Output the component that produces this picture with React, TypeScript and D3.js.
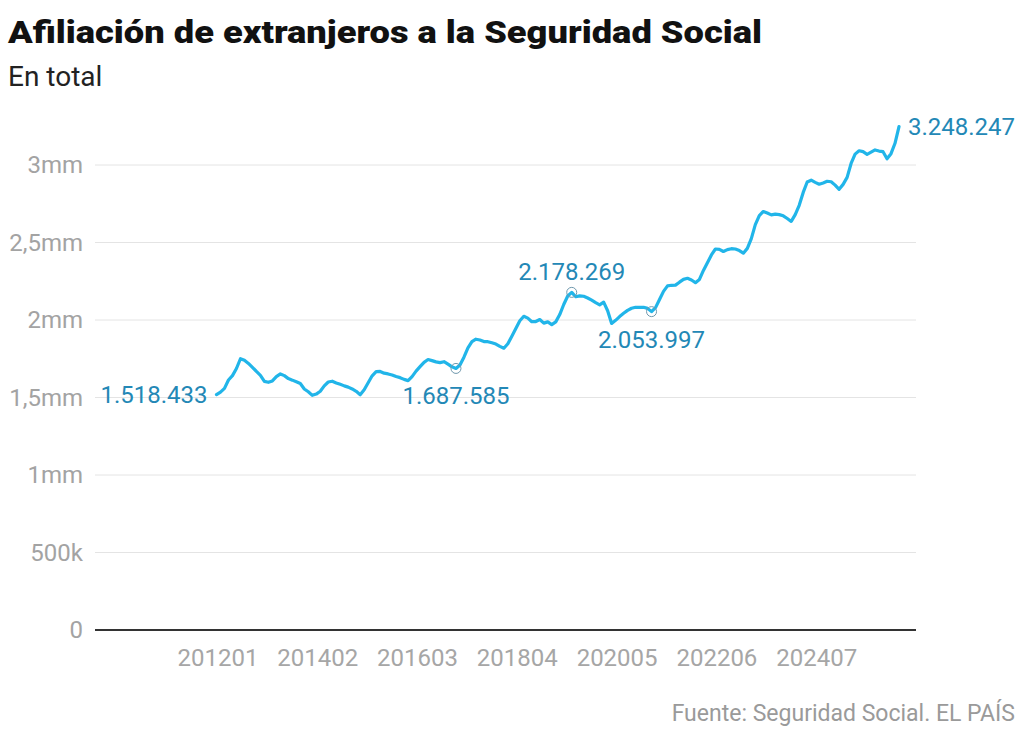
import * as React from 'react'
import * as d3 from 'd3'

// Afiliados extranjeros, serie mensual desde 201201
const startYear = 2012
const affiliates = [
  1518433, 1535000, 1559000, 1613000, 1641000, 1687000, 1750000, 1740000, 1720000, 1695000,
  1668000, 1643000, 1604000, 1598000, 1607000, 1635000, 1652000, 1641000, 1622000, 1612000,
  1601000, 1590000, 1555000, 1537000, 1514000, 1522000, 1540000, 1575000, 1600000, 1605000,
  1594000, 1585000, 1575000, 1567000, 1555000, 1540000, 1518000, 1550000, 1595000, 1640000,
  1667000, 1668000, 1657000, 1652000, 1645000, 1635000, 1628000, 1617000, 1609000, 1635000,
  1670000, 1699000, 1727000, 1745000, 1738000, 1730000, 1725000, 1731000, 1715000, 1698000,
  1687585, 1710000, 1760000, 1820000, 1860000, 1876000, 1871000, 1861000, 1860000, 1853000,
  1845000, 1830000, 1818000, 1847000, 1895000, 1945000, 1995000, 2024000, 2012000, 1989000,
  1990000, 2003000, 1980000, 1988000, 1970000, 1988000, 2035000, 2100000, 2155000, 2178269,
  2150000, 2156000, 2153000, 2142000, 2128000, 2112000, 2098000, 2115000, 2060000, 1978000,
  1998000, 2022000, 2043000, 2062000, 2076000, 2082000, 2082000, 2082000, 2075000, 2053997,
  2080000, 2132000, 2185000, 2220000, 2224000, 2225000, 2244000, 2262000, 2269000, 2258000,
  2241000, 2262000, 2320000, 2370000, 2420000, 2458000, 2456000, 2442000, 2454000, 2460000,
  2458000, 2448000, 2431000, 2462000, 2525000, 2615000, 2674000, 2700000, 2690000, 2678000,
  2683000, 2680000, 2672000, 2655000, 2636000, 2680000, 2740000, 2823000, 2890000, 2902000,
  2888000, 2876000, 2884000, 2895000, 2892000, 2870000, 2843000, 2875000, 2920000, 3010000,
  3070000, 3092000, 3086000, 3069000, 3083000, 3097000, 3090000, 3086000, 3040000, 3073000,
  3140000, 3248247,
]

const months = affiliates.map((_, i) => {
  const y = startYear + Math.floor(i / 12)
  const m = (i % 12) + 1
  return `${y}${m < 10 ? '0' : ''}${m}`
})

const xTickLabels = ['201201', '201402', '201603', '201804', '202005', '202206', '202407']
const yTickValues = [0, 500000, 1000000, 1500000, 2000000, 2500000, 3000000]
const yTickLabels = ['0', '500k', '1mm', '1,5mm', '2mm', '2,5mm', '3mm']

// puntos anotados: mes, posición del texto
const highlights = [
  { month: '201701', place: 'below' },
  { month: '201906', place: 'above' },
  { month: '202102', place: 'below' },
]

const fmt = (v: number) => d3.format(',')(v).replace(/,/g, '.')

const FONT = 'Roboto, "Noto Sans", sans-serif'
const lineColor = '#21b5e9'
const labelColor = '#2388b6'

export default function App() {
  const width = 1024
  const height = 737

  const x = d3.scalePoint<string>().domain(months).range([216.5, 899])
  const y = d3.scaleLinear().domain([0, 3000000]).range([630, 165])

  const line = d3.line<number>()
    .x((_, i) => x(months[i])!)
    .y(d => y(d))

  const first = affiliates[0]
  const last = affiliates[affiliates.length - 1]
  const lastMonth = months[months.length - 1]

  return (
    <div style={{ position: 'absolute', left: 0, top: 0 }}>
      <svg width={width} height={height} style={{ display: 'block', background: '#fff' }}>
        <text
          x={8}
          y={43}
          fontFamily={FONT}
          fontWeight={900}
          fontSize={31}
          fill="#111"
          textLength={754}
          lengthAdjust="spacingAndGlyphs"
        >
          Afiliación de extranjeros a la Seguridad Social
        </text>
        <text x={8} y={86} fontFamily={FONT} fontSize={28} fill="#222">
          En total
        </text>

        {/* Grid and y axis */}
        {yTickValues.map((v, i) => (
          <g key={v}>
            {v !== 0 && (
              <line x1={95} x2={916} y1={y(v)} y2={y(v)} stroke="#e4e4e4" strokeWidth={1} />
            )}
            <text
              x={83}
              y={y(v) + 8}
              textAnchor="end"
              fontFamily={FONT}
              fontSize={24}
              fill="#a3a3a3"
            >
              {yTickLabels[i]}
            </text>
          </g>
        ))}
        <line x1={95} x2={916} y1={y(0)} y2={y(0)} stroke="#333" strokeWidth={2} />

        {/* x axis labels */}
        {xTickLabels.map(m => (
          <text
            key={m}
            x={x(m)! + 1.5}
            y={666}
            textAnchor="middle"
            fontFamily={FONT}
            fontSize={24}
            fill="#a6a6a6"
          >
            {m}
          </text>
        ))}

        {/* Series */}
        <path
          d={line(affiliates) || ''}
          fill="none"
          stroke={lineColor}
          strokeWidth={3.2}
          strokeLinejoin="round"
          strokeLinecap="round"
        />

        {highlights.map(h => {
          const idx = months.indexOf(h.month)
          const v = affiliates[idx]
          const cx = x(h.month)!
          const cy = y(v)
          return (
            <g key={h.month}>
              <circle cx={cx} cy={cy} r={5} fill="none" stroke="#6f98ad" strokeWidth={1} />
              <text
                x={cx}
                y={h.place === 'above' ? cy - 12 : cy + 36}
                textAnchor="middle"
                fontFamily={FONT}
                fontSize={24}
                fill={labelColor}
              >
                {fmt(v)}
              </text>
            </g>
          )
        })}

        <text
          x={x(months[0])! - 9}
          y={y(first) + 8}
          textAnchor="end"
          fontFamily={FONT}
          fontSize={24}
          fill={labelColor}
        >
          {fmt(first)}
        </text>
        <text
          x={x(lastMonth)! + 9}
          y={y(last) + 8}
          fontFamily={FONT}
          fontSize={24}
          fill={labelColor}
        >
          {fmt(last)}
        </text>

        <text
          x={1015}
          y={721}
          textAnchor="end"
          fontFamily={FONT}
          fontSize={23}
          fill="#9a9a9a"
        >
          Fuente: Seguridad Social. EL PAÍS
        </text>
      </svg>
    </div>
  )
}
